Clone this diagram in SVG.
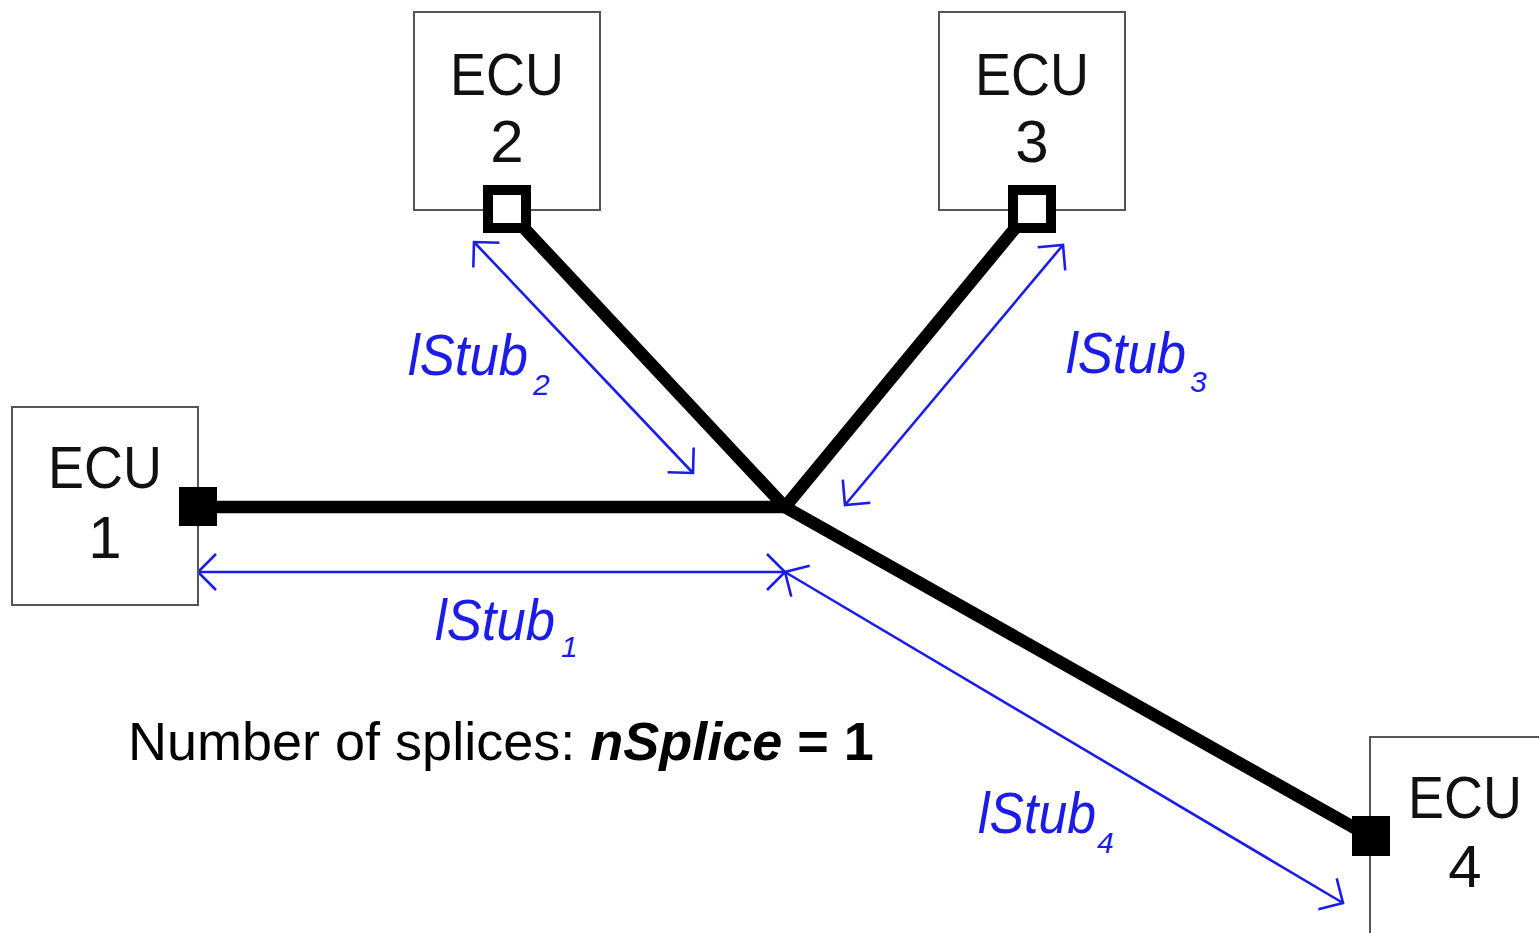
<svg xmlns="http://www.w3.org/2000/svg" width="1539" height="933" viewBox="0 0 1539 933">
<style>
.box{fill:#fff;stroke:#555;stroke-width:2}
.ecu{font-family:"Liberation Sans",Arial,sans-serif;font-size:60px;fill:#111;text-anchor:middle}
.wire{stroke:#000;stroke-width:12.5;fill:none}
.dim{stroke:#1c1ce8;stroke-width:2.6;fill:none;marker-start:url(#ah);marker-end:url(#ah)}
.lbl{font-family:"Liberation Sans",Arial,sans-serif;font-style:italic;font-size:57px;fill:#1c1ce8}
.sub{font-family:"Liberation Sans",Arial,sans-serif;font-style:italic;font-size:30px;fill:#1c1ce8}
.note{font-family:"Liberation Sans",Arial,sans-serif;font-size:54px;fill:#000}
</style>
<defs>
<marker id="ah" markerUnits="userSpaceOnUse" markerWidth="40" markerHeight="40" viewBox="-30 -20 40 40" refX="0" refY="0" orient="auto-start-reverse">
<path d="M -18 -18 L 0 0 L -18 18" fill="none" stroke="#1c1ce8" stroke-width="2.6"/>
</marker>
</defs>
<rect width="1539" height="933" fill="#fff"/>
<g id="connectors">
<line class="wire" x1="216" y1="507" x2="785" y2="507"/>
<line class="wire" x1="522" y1="226" x2="785" y2="507"/>
<line class="wire" x1="1017" y1="226" x2="785" y2="507"/>
<line class="wire" x1="785" y1="507" x2="1360" y2="831"/>
<line class="dim" x1="198" y1="572" x2="785" y2="572"/>
<line class="dim" x1="474" y1="242" x2="693" y2="473"/>
<line class="dim" x1="845" y1="505" x2="1063" y2="245"/>
<line class="dim" x1="785" y1="572" x2="1343" y2="903"/>
</g>
<g id="ecu1">
<rect class="box" x="12" y="407" width="186" height="198"/>
<text class="ecu" x="105" y="488" textLength="114" lengthAdjust="spacingAndGlyphs">ECU</text>
<text class="ecu" x="105" y="558">1</text>
<rect x="179" y="487" width="38" height="39" fill="#000"/>
</g>
<g id="ecu2">
<rect class="box" x="414" y="12" width="186" height="198"/>
<text class="ecu" x="507" y="95" textLength="114" lengthAdjust="spacingAndGlyphs">ECU</text>
<text class="ecu" x="507" y="162">2</text>
<rect x="488" y="190" width="38" height="38" fill="#fff" stroke="#000" stroke-width="10"/>
</g>
<g id="ecu3">
<rect class="box" x="939" y="12" width="186" height="198"/>
<text class="ecu" x="1032" y="95" textLength="114" lengthAdjust="spacingAndGlyphs">ECU</text>
<text class="ecu" x="1032" y="162">3</text>
<rect x="1013" y="190" width="38" height="38" fill="#fff" stroke="#000" stroke-width="10"/>
</g>
<g id="ecu4">
<rect class="box" x="1370" y="737" width="186" height="210"/>
<text class="ecu" x="1465" y="818" textLength="114" lengthAdjust="spacingAndGlyphs">ECU</text>
<text class="ecu" x="1465" y="887">4</text>
<rect x="1352" y="816" width="38" height="40" fill="#000"/>
</g>
<g id="labels">
<text class="lbl" x="408" y="375" textLength="120" lengthAdjust="spacingAndGlyphs">lStub</text>
<text class="sub" x="533" y="395">2</text>
<text class="lbl" x="1066" y="373" textLength="120" lengthAdjust="spacingAndGlyphs">lStub</text>
<text class="sub" x="1190" y="392">3</text>
<text class="lbl" x="435" y="640" textLength="120" lengthAdjust="spacingAndGlyphs">lStub</text>
<text class="sub" x="561" y="657">1</text>
<text class="lbl" x="978" y="833" textLength="118" lengthAdjust="spacingAndGlyphs">lStub</text>
<text class="sub" x="1097" y="853">4</text>
<text class="note" x="128" y="760">Number of splices: <tspan font-weight="bold" font-style="italic">nSplice</tspan><tspan font-weight="bold"> = 1</tspan></text>
</g>
</svg>
